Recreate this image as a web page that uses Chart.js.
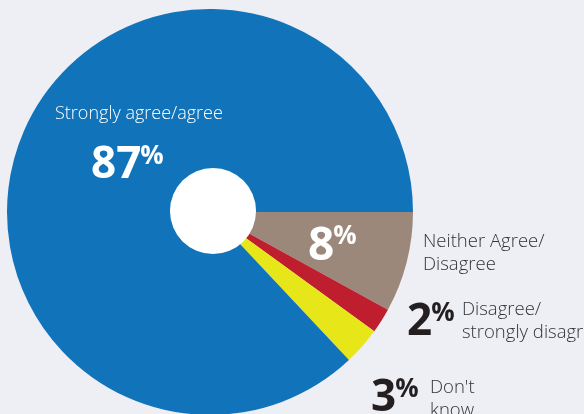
<!DOCTYPE html>
<html>
<head>
<meta charset="utf-8">
<script src="https://cdn.jsdelivr.net/npm/chart.js@4/dist/chart.umd.min.js"></script>
<style>
  html, body { margin: 0; padding: 0; background: #eeeff5; overflow: hidden; }
  #wrap { width: 584px; height: 414px; overflow: hidden; position: relative; }
  canvas { display: block; }
</style>
</head>
<body>
<div id="wrap"><canvas id="c" width="584" height="416"></canvas></div>
<script>
// Survey response shares (percent)
const categories = ['Neither Agree/Disagree', 'Disagree/strongly disagree', "Don't know", 'Strongly agree/agree'];
const values = [8, 2, 3, 87];
const sliceColors = ['#9c887b', '#be1e2d', '#e6e618', '#1174bb'];

const FONT = '"Open Sans", "Noto Sans", sans-serif';

// Big bold percentage with a raised, smaller "%" sign
function drawPercent(ctx, value, x, baseline, size, color) {
  ctx.fillStyle = color;
  ctx.textAlign = 'left';
  ctx.textBaseline = 'alphabetic';
  ctx.font = 'bold ' + size + 'px ' + FONT;
  const txt = String(value);
  ctx.fillText(txt, x, baseline);
  const w = ctx.measureText(txt).width;
  const digitTop = baseline - size * 0.714;
  const pSize = 26;
  ctx.font = 'bold ' + pSize + 'px ' + FONT;
  ctx.fillText('%', x + w - 1, digitTop + 17);
}

function drawLines(ctx, lines, x, baseline, color, size) {
  ctx.fillStyle = color;
  ctx.textAlign = 'left';
  ctx.textBaseline = 'alphabetic';
  ctx.font = '300 ' + size + 'px ' + FONT;
  lines.forEach((l, i) => ctx.fillText(l, x, baseline + i * 23));
}

const labelPlugin = {
  id: 'sliceLabels',
  afterDatasetsDraw(chart) {
    const ctx = chart.ctx;
    const arc = chart.getDatasetMeta(0).data[0];
    // white centre disc
    ctx.save();
    ctx.beginPath();
    ctx.arc(arc.x + 3, arc.y - 1, arc.outerRadius * 0.212, 0, Math.PI * 2);
    ctx.fillStyle = '#ffffff';
    ctx.fill();

    // Strongly agree/agree
    drawLines(ctx, ['Strongly agree/agree'], 55, 119, '#ffffff', 18);
    drawPercent(ctx, values[3], 91, 178, 44, '#ffffff');

    // Neither
    drawPercent(ctx, values[0], 308, 260, 46, '#ffffff');
    drawLines(ctx, ['Neither Agree/', 'Disagree'], 423, 247, '#333333', 18.5);

    // Disagree
    drawPercent(ctx, values[1], 407, 335, 44, '#231f20');
    drawLines(ctx, ['Disagree/', 'strongly disagree'], 462, 315, '#333333', 18.5);

    // Don't know
    drawPercent(ctx, values[2], 371, 411, 44, '#231f20');
    drawLines(ctx, ["Don't", 'know'], 430, 393, '#333333', 18.5);
    ctx.restore();
  }
};

new Chart(document.getElementById('c'), {
  type: 'pie',
  data: {
    labels: categories,
    datasets: [{
      data: values,
      backgroundColor: sliceColors,
      borderWidth: 0,
      hoverOffset: 0
    }]
  },
  options: {
    responsive: false,
    animation: false,
    rotation: 90,
    layout: { padding: { left: 7, right: 171, top: 9, bottom: 1 } },
    plugins: {
      legend: { display: false },
      tooltip: { enabled: false }
    }
  },
  plugins: [labelPlugin]
});
</script>
</body>
</html>
